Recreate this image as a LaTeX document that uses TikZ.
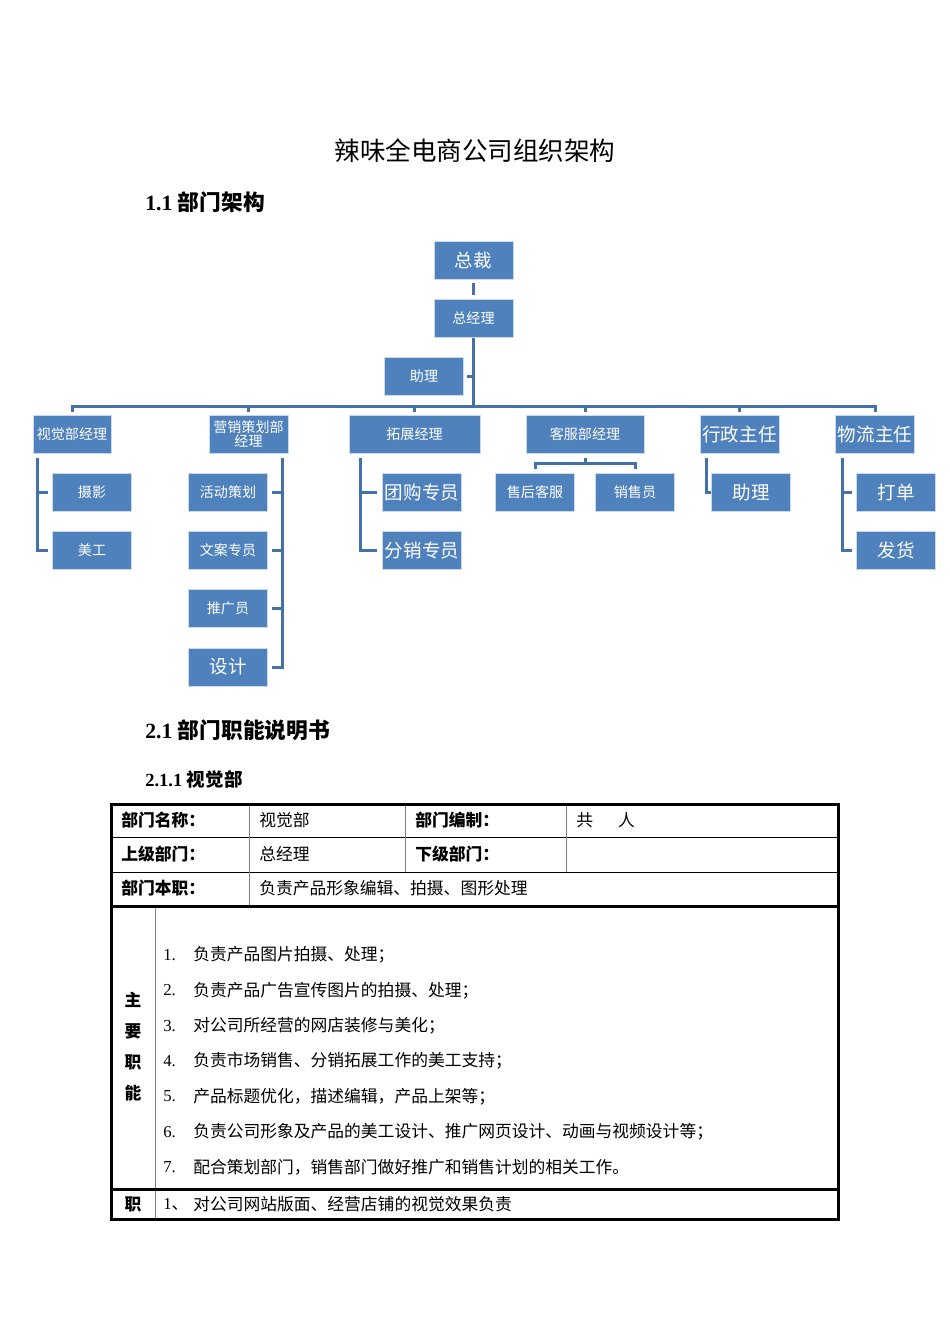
\documentclass[tikz,border=0pt]{standalone}
\usepackage{fontspec}
\setmainfont{Liberation Serif}
\newfontfamily\cjk{Noto Sans CJK SC}
\usetikzlibrary{positioning,calc}
\definecolor{boxBlue}{RGB}{79,129,189}
\definecolor{lineBlue}{RGB}{68,114,168}
\definecolor{gridGray}{RGB}{128,128,128}
\newdimen\unitpx \unitpx=0.6263pt

\tikzset{
  orgbox/.style={fill=boxBlue, draw=white!70!boxBlue, line width=1\unitpx, text=white,
    inner sep=0pt, minimum width=79\unitpx, minimum height=38\unitpx,
    font=\cjk\fontsize{8.8}{8.8}\selectfont},
  bigtxt/.style={font=\cjk\fontsize{11.6}{13}\selectfont},
  link/.style={draw=lineBlue, line width=3\unitpx},
  cell/.style={anchor=west, inner sep=0pt, font=\cjk\fontsize{10.5}{12}\selectfont},
  hcell/.style={cell, font=\cjk\bfseries\fontsize{10.5}{12}\selectfont},
  heavy/.style={line width=3\unitpx},
}

\begin{document}
\begin{tikzpicture}[x=0.6263pt,y=-0.6263pt]
  \useasboundingbox (0,0) rectangle (950,1344);
  % headings
  \node[font=\cjk\fontsize{16}{19}\selectfont] (title) at (475,151) {辣味全电商公司组织架构};
  \node[anchor=west, inner sep=0pt, font=\bfseries\fontsize{13.6}{16}\selectfont] (secA) at (145,202) {1.1 {\cjk 部门架构}};

  % top of the chart
  \node[orgbox, bigtxt] (zc) at (473.5,260) {总裁};
  \node[orgbox] (zjl) at (473.5,318) {总经理};
  \node[orgbox] (zl) at (424,376) {助理};
  \coordinate (bus) at (473.5,406);

  % departments, y=434
  \node[orgbox, minimum width=78\unitpx] (vis) at (72,434) {视觉部经理};
  \node[orgbox, align=center] (yx) at (248.5,434) {营销策划部\\经理};
  \node[orgbox, minimum width=131\unitpx] (tz) at (414.5,434) {拓展经理};
  \node[orgbox, minimum width=118\unitpx] (kf) at (585,434) {客服部经理};
  \node[orgbox, bigtxt] (xz) at (739.5,434) {行政主任};
  \node[orgbox, bigtxt] (wl) at (875,434) {物流主任};

  % staff rows 492 / 550 / 608 / 667
  \node[orgbox] (sy) at (92,492) {摄影};
  \node[orgbox] (mg) at (92,550) {美工};
  \node[orgbox] (hd) at (228,492) {活动策划};
  \node[orgbox] (wa) at (228,550) {文案专员};
  \node[orgbox] (tg) at (228,608) {推广员};
  \node[orgbox, bigtxt] (sj) at (228,667) {设计};
  \node[orgbox, bigtxt] (tgz) at (422,492) {团购专员};
  \node[orgbox, bigtxt] (fx) at (422,550) {分销专员};
  \node[orgbox] (sh) at (535,492) {售后客服};
  \node[orgbox] (xs) at (635,492) {销售员};
  \node[orgbox, bigtxt] (zl2) at (751,492) {助理};
  \node[orgbox, bigtxt] (dd) at (896,492) {打单};
  \node[orgbox, bigtxt] (fh) at (896,550) {发货};

  % connectors
  \draw[link, shorten <=3\unitpx, shorten >=4\unitpx] (zc) -- (zjl);
  \draw[link] (zjl.south) -- (bus);
  \draw[link] ([xshift=3\unitpx]zl.east) -- (zl.east -| bus);
  \draw[link] ([yshift=3\unitpx]vis.north) |- (bus) -| ([yshift=3\unitpx]wl.north);
  \foreach \n in {yx,tz,kf,xz}
    \draw[link] (\n.north |- bus) -- ([yshift=3\unitpx]\n.north);

  \coordinate (visbus) at ([xshift=5\unitpx,yshift=-4\unitpx]vis.south west);
  \draw[link] (visbus) |- ([xshift=-4\unitpx]mg.west);
  \draw[link] (visbus |- sy.west) -- ([xshift=-4\unitpx]sy.west);

  \coordinate (yxbus) at ([xshift=-6\unitpx,yshift=-4\unitpx]yx.south east);
  \draw[link] (yxbus) |- ([xshift=4\unitpx]sj.east);
  \foreach \n in {hd,wa,tg}
    \draw[link] (yxbus |- \n.east) -- ([xshift=4\unitpx]\n.east);

  \coordinate (tzbus) at ([xshift=12\unitpx,yshift=-4\unitpx]tz.south west);
  \draw[link] (tzbus) |- ([xshift=-5\unitpx]fx.west);
  \draw[link] (tzbus |- tgz.west) -- ([xshift=-5\unitpx]tgz.west);

  \coordinate (kfbus) at (585,463);
  \draw[link] ([yshift=-4\unitpx]kf.south) -- (kfbus);
  \draw[link] ([yshift=4\unitpx]sh.north) |- (kfbus) -| ([yshift=4\unitpx]xs.north);

  \coordinate (xzbus) at ([xshift=7\unitpx,yshift=-4\unitpx]xz.south west);
  \draw[link] (xzbus) |- (zl2.west);

  \coordinate (wlbus) at ([xshift=7\unitpx,yshift=-4\unitpx]wl.south west);
  \draw[link] (wlbus) |- ([xshift=-4\unitpx]fh.west);
  \draw[link] (wlbus |- dd.west) -- ([xshift=-4\unitpx]dd.west);

  % second part
  \node[anchor=west, inner sep=0pt, font=\bfseries\fontsize{13.6}{16}\selectfont] (secB) at (145,730) {2.1 {\cjk 部门职能说明书}};
  \node[anchor=west, inner sep=0pt, font=\bfseries\fontsize{11.6}{14}\selectfont] (secC) at (145,779) {2.1.1 {\cjk 视觉部}};

  % table grid
  \draw[line width=1\unitpx] (111,837) -- (838,837) (111,872) -- (838,872);
  \draw[line width=1\unitpx, gridGray] (249,804) -- (249,906) (405,804) -- (405,872) (566,804) -- (566,872);
  \draw[line width=1\unitpx, gridGray] (155,906) -- (155,1219);
  \draw[heavy] (111,906) -- (838,906) (111,1189) -- (838,1189);
  \draw[heavy] (111,804) rectangle (838,1219);

  % table text
  \node[hcell] (nameLbl) at (121,820) {部门名称：};
  \node[cell] (nameVal) at (259,820) {视觉部};
  \node[hcell] (sizeLbl) at (415,820) {部门编制：};
  \node[cell] (sizeVal) at (576,820) {共\hspace{1.5em}人};
  \node[hcell] (upLbl) at (121,854) {上级部门：};
  \node[cell] (upVal) at (259,854) {总经理};
  \node[hcell] (downLbl) at (415,854) {下级部门：};
  \node[hcell] (dutyLbl) at (121,888) {部门本职：};
  \node[cell] (dutyVal) at (259,888) {负责产品形象编辑、拍摄、图形处理};

  \foreach \c/\y [count=\i] in {主/1000,要/1031,职/1062,能/1093}
    \node[hcell, anchor=center] (mainChar\i) at (133,\y) {\c};

  \foreach \t [count=\i] in {负责产品图片拍摄、处理；,
      负责产品广告宣传图片的拍摄、处理；,
      对公司所经营的网店装修与美化；,
      负责市场销售、分销拓展工作的美工支持；,
      产品标题优化，描述编辑，产品上架等；,
      负责公司形象及产品的美工设计、推广网页设计、动画与视频设计等；,
      配合策划部门，销售部门做好推广和销售计划的相关工作。} {
    \pgfmathsetmacro\yy{955+(\i-1)*35.33}
    \node[anchor=west, inner sep=0pt, font=\fontsize{10.5}{12}\selectfont] (num\i) at (163,\yy) {\i.};
    \node[cell] (item\i) at (193,\yy) {\t};
  }

  \node[hcell, anchor=center] (respChar) at (133,1204) {职};
  \node[cell] (respNum) at (163,1204) {{\rmfamily 1}、};
  \node[cell] (respVal) at (193,1204) {对公司网站版面、经营店铺的视觉效果负责};
\end{tikzpicture}
\end{document}
